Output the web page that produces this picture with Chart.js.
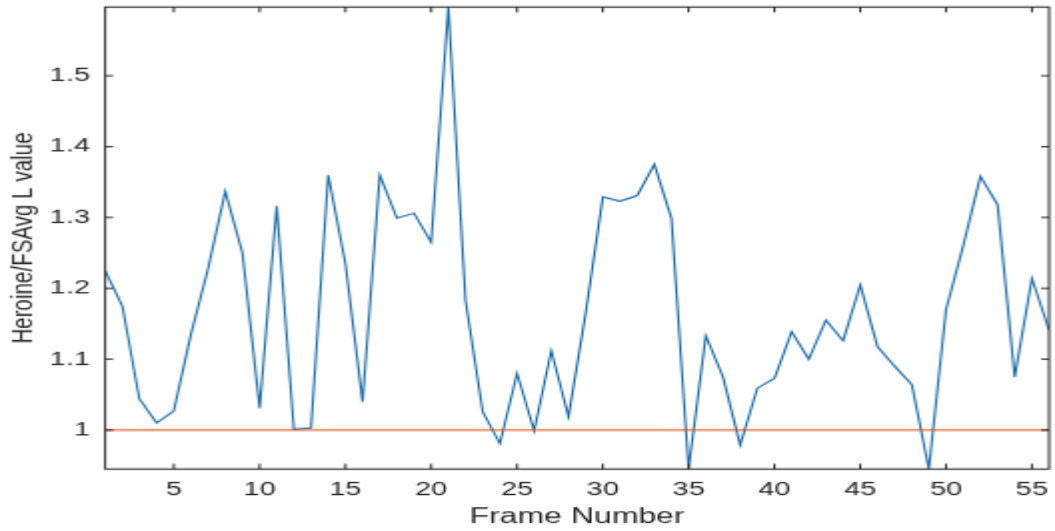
<!DOCTYPE html>
<html>
<head>
<meta charset="utf-8">
<script src="https://cdn.jsdelivr.net/npm/chart.js@4"></script>
<style>
  html, body { margin: 0; padding: 0; background: #fff; }
</style>
</head>
<body>
<!-- drawn small and stretched, like the source picture -->
<canvas id="chart" width="528" height="400" style="display:block;width:1055px;height:531px"></canvas>
<script>
// frame numbers 1..56
var frames = [];
for (var f = 1; f <= 56; f++) frames.push(f);

// Heroine/FSAvg L value per frame
var ratio = [
    1.225, 1.175, 1.044, 1.010, 1.027, 1.135, 1.228, 1.337, 1.250, 1.031,
    1.316, 1.001, 1.003, 1.360, 1.235, 1.040, 1.360, 1.299, 1.306, 1.265,
    1.597, 1.183, 1.026, 0.981, 1.080, 0.999, 1.112, 1.019, 1.165, 1.329,
    1.323, 1.331, 1.375, 1.299, 0.945, 1.133, 1.075, 0.979, 1.059, 1.073,
    1.139, 1.100, 1.155, 1.126, 1.205, 1.118, 1.090, 1.064, 0.945, 1.170,
    1.260, 1.358, 1.318, 1.075, 1.214, 1.141
];

var baseline = 1;
var xTicks = [5, 10, 15, 20, 25, 30, 35, 40, 45, 50, 55];
var yTicks = [1, 1.1, 1.2, 1.3, 1.4, 1.5];
var yMin = 0.945;
var yMax = 1.597;

var axisColor = "#262626";
var fontFamily = "'Liberation Sans', Arial, sans-serif";

// matlab style box with inward ticks on all four sides
var boxPlugin = {
    id: "matlabBox",
    afterDatasetsDraw: function (chart) {
        var ctx = chart.ctx;
        var a = chart.chartArea;
        var x = chart.scales.x;
        var y = chart.scales.y;
        var tl = 4;
        ctx.save();
        ctx.strokeStyle = axisColor;
        ctx.lineWidth = 1;
        ctx.beginPath();
        for (var i = 0; i < xTicks.length; i++) {
            var px = x.getPixelForValue(xTicks[i]);
            ctx.moveTo(px, a.bottom);
            ctx.lineTo(px, a.bottom - tl);
            ctx.moveTo(px, a.top);
            ctx.lineTo(px, a.top + tl);
        }
        for (var j = 0; j < yTicks.length; j++) {
            var py = y.getPixelForValue(yTicks[j]);
            ctx.moveTo(a.left, py);
            ctx.lineTo(a.left + tl, py);
            ctx.moveTo(a.right, py);
            ctx.lineTo(a.right - tl, py);
        }
        ctx.stroke();
        ctx.strokeRect(a.left, a.top, a.right - a.left, a.bottom - a.top);
        ctx.restore();
    }
};

var noGrid = { display: false, drawTicks: false, tickLength: 0 };

// fixed axis sizes, no extra room for the end labels
function fixSize(w, h) {
    return function (scale) {
        if (w) scale.width = w;
        if (h) scale.height = h;
        scale.paddingTop = 0;
        scale.paddingBottom = 0;
        scale.paddingLeft = 0;
        scale.paddingRight = 0;
    };
}

var ctx = document.getElementById("chart").getContext("2d");
var myChart = new Chart(ctx, {
    type: "line",
    data: {
        datasets: [
            {
                label: "baseline",
                data: [{ x: frames[0], y: baseline }, { x: frames[frames.length - 1], y: baseline }],
                borderColor: "#D95319",
                borderWidth: 1,
                pointRadius: 0,
                order: 0
            },
            {
                label: "ratio",
                data: frames.map(function (f, i) { return { x: f, y: ratio[i] }; }),
                borderColor: "#1a6aa6",
                borderWidth: 1.1,
                pointRadius: 0,
                tension: 0,
                order: 1
            }
        ]
    },
    options: {
        responsive: false,
        animation: false,
        events: [],
        layout: {
            padding: { top: 5.3, right: 3, left: 0, bottom: 0 }
        },
        plugins: {
            legend: { display: false },
            tooltip: { enabled: false }
        },
        scales: {
            x: {
                type: "linear",
                min: 1,
                max: 56,
                grid: noGrid,
                border: { display: false },
                afterBuildTicks: function (scale) {
                    scale.ticks = xTicks.map(function (v) { return { value: v }; });
                },
                afterFit: fixSize(0, 46.7),
                ticks: {
                    color: axisColor,
                    padding: 7,
                    maxRotation: 0,
                    font: { family: fontFamily, size: 14.5 },
                    callback: function (v) { return String(v); }
                },
                title: {
                    display: true,
                    text: "Frame Number",
                    color: axisColor,
                    padding: { top: 0, bottom: 1 },
                    font: { family: fontFamily, size: 16 }
                }
            },
            y: {
                type: "linear",
                min: yMin,
                max: yMax,
                grid: noGrid,
                border: { display: false },
                afterBuildTicks: function (scale) {
                    scale.ticks = yTicks.map(function (v) { return { value: v }; });
                },
                afterFit: fixSize(52.6, 0),
                ticks: {
                    color: axisColor,
                    padding: 7.6,
                    font: { family: fontFamily, size: 14.5 },
                    callback: function (v) { return String(Math.round(v * 10) / 10); }
                },
                title: {
                    display: true,
                    text: "Heroine/FSAvg L value",
                    color: axisColor,
                    padding: { top: 2, bottom: 0 },
                    font: { family: fontFamily, size: 15.5 }
                }
            }
        }
    },
    plugins: [boxPlugin]
});
</script>
</body>
</html>
